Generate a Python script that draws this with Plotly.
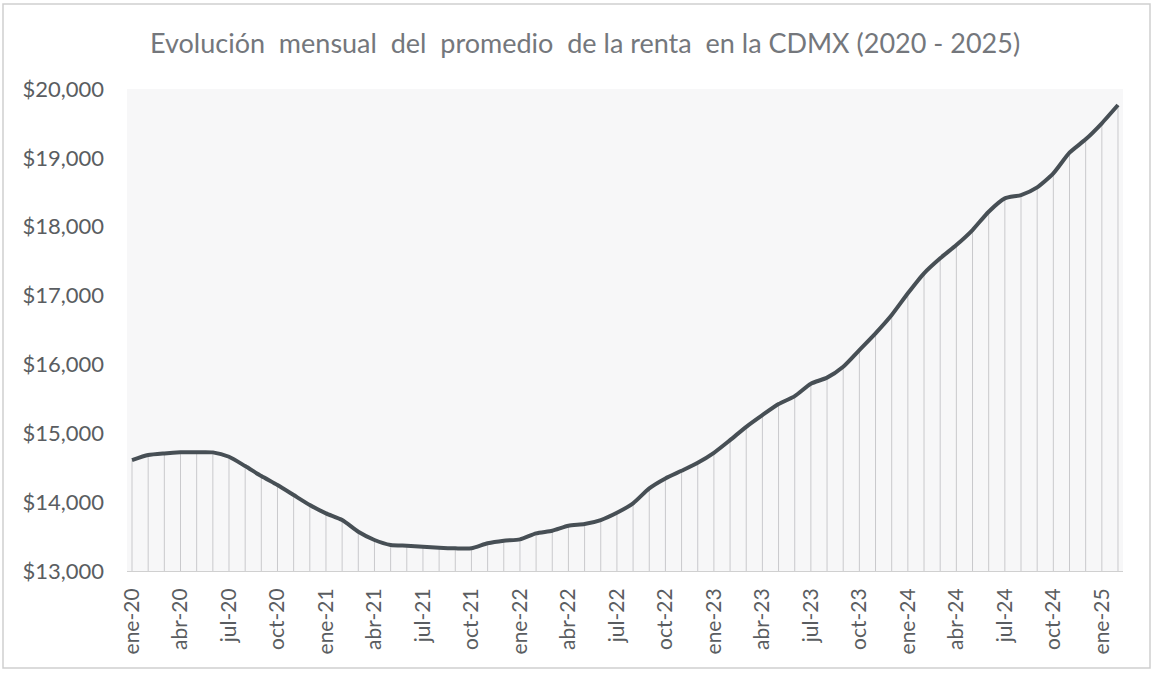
import plotly.graph_objects as go

MONTHS = ["ene", "feb", "mar", "abr", "may", "jun", "jul", "ago", "sep", "oct", "nov", "dic"]
YEARS = ["20", "21", "22", "23", "24", "25"]
N_POINTS = 62  # ene-20 .. feb-25

categories = [f"{MONTHS[k % 12]}-{YEARS[k // 12]}" for k in range(N_POINTS)]

renta = [
    14611, 14684, 14708, 14723, 14725, 14723, 14659, 14524, 14379, 14248, 14103, 13958,
    13837, 13740, 13570, 13450, 13377, 13367, 13353, 13338, 13329, 13329, 13402, 13440,
    13460, 13547, 13585, 13657, 13682, 13740, 13846, 13983, 14200, 14345, 14456, 14572,
    14717, 14901, 15094, 15264, 15424, 15540, 15720, 15808, 15967, 16209, 16452, 16718,
    17033, 17323, 17541, 17734, 17952, 18218, 18412, 18460, 18572, 18775, 19075, 19269,
    19502, 19767,
]

tick_labels = categories[::3]
y_ticks = [13000, 14000, 15000, 16000, 17000, 18000, 19000, 20000]
y_tick_text = [f"${v:,}" for v in y_ticks]
Y_MIN = 13000

FONT = "Lato, 'Open Sans', sans-serif"

fig = go.Figure()

# drop lines from each point down to the axis
fig.add_trace(go.Scatter(
    x=categories, y=renta, mode="markers",
    marker=dict(size=0.1, color="rgba(0,0,0,0)"),
    error_y=dict(type="data", symmetric=False,
                 array=[0] * len(renta),
                 arrayminus=[v - Y_MIN for v in renta],
                 width=0, thickness=1, color="#c9c9cc"),
    hoverinfo="skip", showlegend=False,
))

fig.add_trace(go.Scatter(
    x=categories, y=renta, mode="lines",
    line=dict(color="#474f55", width=4, shape="spline", smoothing=0.6),
    showlegend=False,
))

fig.update_layout(
    width=1154, height=676,
    margin=dict(l=127, r=31, t=89, b=105),
    paper_bgcolor="#ffffff",
    plot_bgcolor="#f7f7f8",
    title=dict(
        text="Evolución  mensual  del  promedio  de la renta  en la CDMX (2020 - 2025)",
        x=0.507, xanchor="center", y=0.935, yanchor="middle",
        font=dict(family=FONT, size=27, color="#74777c"),
    ),
    xaxis=dict(
        type="category",
        range=[-0.31, N_POINTS - 1 + 0.31],
        tickmode="array", tickvals=tick_labels, ticktext=tick_labels,
        tickangle=-90,
        tickfont=dict(family=FONT, size=21, color="#5a5d61"),
        showgrid=False, zeroline=False,
        showline=True, linecolor="#d0d0d0", linewidth=1,
        ticks="", ticklabelstandoff=8,
    ),
    yaxis=dict(
        range=[Y_MIN, 20000],
        tickmode="array", tickvals=y_ticks, ticktext=y_tick_text,
        tickfont=dict(family=FONT, size=22, color="#5a5d61"),
        showgrid=False, zeroline=False, showline=False,
        ticks="", ticklabelstandoff=22,
    ),
    shapes=[dict(type="rect", xref="paper", yref="paper",
                 x0=-124 / 996, x1=1 + 27 / 996, y0=-97 / 482, y1=1 + 85 / 482,
                 line=dict(color="#cfcfcf", width=1.5), layer="below")],
)

fig.write_html("out.html")
